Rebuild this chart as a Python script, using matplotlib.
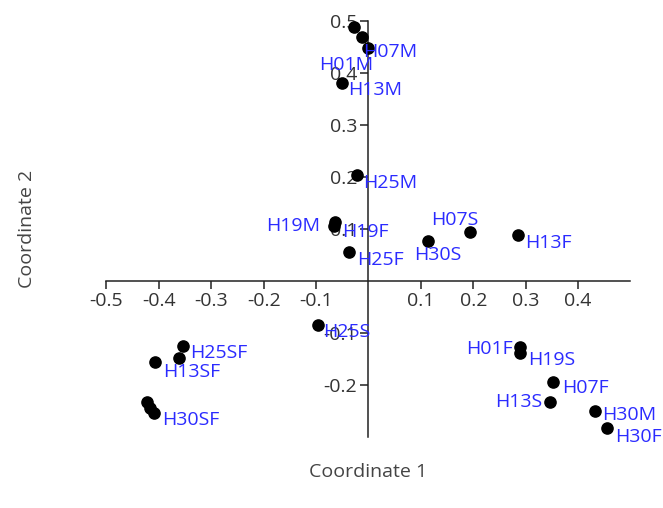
import matplotlib
matplotlib.use('Agg')
import matplotlib.pyplot as plt
import numpy as np

plt.rcParams['font.family'] = ['Open Sans', 'DejaVu Sans']

# 样本名称与坐标
names = ['H01S', 'H01M', 'H07M', 'H13M', 'H25M', 'H19M', 'H19F', 'H25F',
         'H30S', 'H07S', 'H13F', 'H25S', 'H25SF', 'H07SF', 'H13SF', 'H01SF',
         'H19SF', 'H30SF', 'H01F', 'H19S', 'H07F', 'H13S', 'H30M', 'H30F']
coord1 = [-0.028, -0.012, -0.001, -0.051, -0.022, -0.064, -0.066, -0.037,
          0.114, 0.194, 0.285, -0.096, -0.354, -0.362, -0.407, -0.423,
          -0.417, -0.409, 0.289, 0.289, 0.352, 0.346, 0.432, 0.455]
coord2 = [0.489, 0.470, 0.449, 0.382, 0.204, 0.114, 0.106, 0.056,
          0.077, 0.094, 0.089, -0.085, -0.125, -0.148, -0.156, -0.233,
          -0.245, -0.254, -0.127, -0.139, -0.195, -0.233, -0.250, -0.283]
shown = ['H01M', 'H07M', 'H13M', 'H25M', 'H19M', 'H19F', 'H25F', 'H30S',
         'H07S', 'H13F', 'H25S', 'H25SF', 'H13SF', 'H30SF', 'H01F', 'H19S',
         'H07F', 'H13S', 'H30M', 'H30F']

# 标签偏移(像素, 右/下, 对齐方式)
offsets = {'H01M': (11, 28, 'right'), 'H07M': (-5, 4, 'left'), 'H13M': (6, 7, 'left'),
           'H25M': (6, 8, 'left'), 'H19M': (-15, 4, 'right'), 'H19F': (8, 6, 'left'),
           'H25F': (8, 8, 'left'), 'H30S': (10, 14, 'center'), 'H07S': (-15, -12, 'center'),
           'H13F': (7, 8, 'left'), 'H25S': (5, 7, 'left'), 'H25SF': (7, 7, 'left'),
           'H13SF': (8, 10, 'left'), 'H30SF': (8, 7, 'left'), 'H01F': (-7, 2, 'right'),
           'H19S': (8, 7, 'left'), 'H07F': (9, 6, 'left'), 'H13S': (-8, 0, 'right'),
           'H30M': (7, 4, 'left'), 'H30F': (8, 9, 'left')}

fig = plt.figure(figsize=(6.63, 5.08), dpi=100)
ax = fig.add_axes([0.1606, 0.1404, 0.7903, 0.8173])
ax.set_xlim(-0.5, 0.5)
ax.set_ylim(-0.3, 0.5)

ax.scatter(coord1, coord2, s=65, color='black', zorder=3, clip_on=False)

for n, x, y in zip(names, coord1, coord2):
    if n in shown:
        dx, dy, ha = offsets[n]
        ax.annotate(n, (x, y), xytext=(dx, -dy), textcoords='offset pixels',
                    ha=ha, va='center', fontsize=14, color='#2b2bff',
                    zorder=4, annotation_clip=False)

for s in ['top', 'right']:
    ax.spines[s].set_visible(False)
ax.spines['left'].set_position(('data', 0))
ax.spines['bottom'].set_position(('data', 0))
for s in ['left', 'bottom']:
    ax.spines[s].set_color('#222222')
    ax.spines[s].set_linewidth(1.1)

ax.set_xticks([-0.5, -0.4, -0.3, -0.2, -0.1, 0.1, 0.2, 0.3, 0.4])
ax.set_yticks([-0.2, -0.1, 0.1, 0.2, 0.3, 0.4, 0.5])
ax.set_xticklabels(['-0.5', '-0.4', '-0.3', '-0.2', '-0.1', '0.1', '0.2', '0.3', '0.4'])
ax.set_yticklabels(['-0.2', '-0.1', '0.1', '0.2', '0.3', '0.4', '0.5'])
ax.tick_params(axis='both', direction='out', length=6, width=1.1, color='#222222',
               labelsize=14, labelcolor='#333333', pad=2)
ax.patch.set_visible(False)

fig.text(0.5558, 1 - 472 / 508, 'Coordinate 1', ha='center', va='center',
         fontsize=14, color='#444444')
fig.text(27 / 663, 1 - 229 / 508, 'Coordinate 2', ha='center', va='center',
         rotation=90, fontsize=14, color='#444444')

fig.savefig('out.png', dpi=100)
